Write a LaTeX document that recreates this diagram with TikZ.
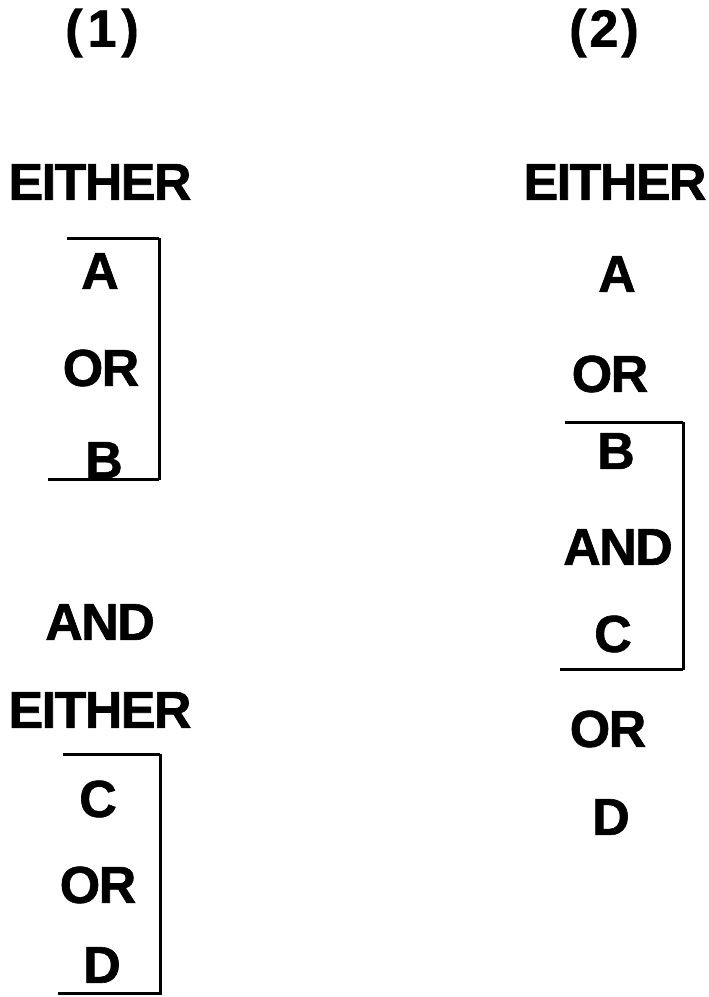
\documentclass[tikz,border=0pt]{standalone}
\usepackage{fontspec}
\setmainfont{Liberation Sans}[LetterSpace=-3,FakeBold=1.2]
\begin{document}
\begin{tikzpicture}[x=1pt,y=-1pt,
  lbl/.style={inner sep=0pt,font=\fontsize{52}{60}\selectfont\bfseries},
  brk/.style={line width=3pt}]
\useasboundingbox (0,0) rectangle (709,997);
% headings
\node[lbl] (h1) at (102,33) {(\kern5pt1\kern5pt)};
\node[lbl] (h2) at (604,33) {(\kern3pt2\kern3pt)};
% left column
\node[lbl] (le1) at (100,182) {EITHER};
\node[lbl] (la) at (100,271) {A};
\node[lbl] (lor1) at (101,368) {OR};
\node[lbl] (lb) at (104,460) {B};
\node[lbl] (land) at (100,622) {AND};
\node[lbl] (le2) at (100,710) {EITHER};
\node[lbl] (lc) at (98,799) {C};
\node[lbl] (lor2) at (98,885) {OR};
\node[lbl] (ld) at (102,965) {D};
% left brackets
\coordinate (b1tl) at (67,238);
\coordinate (b1tr) at (159,238);
\coordinate (b1br) at (159,480);
\coordinate (b1bl) at (48,479);
\draw[brk] (b1tl) -- (b1tr);
\draw[brk] (b1tr) -- (b1br);
\draw[brk] (b1bl) -- (b1br |- b1bl);
\coordinate (b2tl) at (63,754);
\coordinate (b2tr) at (160,754);
\coordinate (b2br) at (160,995);
\coordinate (b2bl) at (58,993);
\draw[brk] (b2tl) -- (b2tr);
\draw[brk] (b2tr) -- (b2br);
\draw[brk] (b2bl) -- (b2br |- b2bl);
% right column
\node[lbl] (re) at (615,182) {EITHER};
\node[lbl] (ra) at (617,274) {A};
\node[lbl] (ror1) at (610,374) {OR};
\node[lbl] (rb) at (616,451) {B};
\node[lbl] (rand) at (618,547) {AND};
\node[lbl] (rc) at (613,634) {C};
\node[lbl] (ror2) at (608,729) {OR};
\node[lbl] (rd) at (611,817) {D};
% right bracket
\coordinate (b3tl) at (565,422);
\coordinate (b3tr) at (683,422);
\coordinate (b3br) at (683,670);
\coordinate (b3bl) at (560,669);
\draw[brk] (b3tl) -- (b3tr);
\draw[brk] (b3tr) -- (b3br);
\draw[brk] (b3bl) -- (b3br |- b3bl);
\end{tikzpicture}
\end{document}
